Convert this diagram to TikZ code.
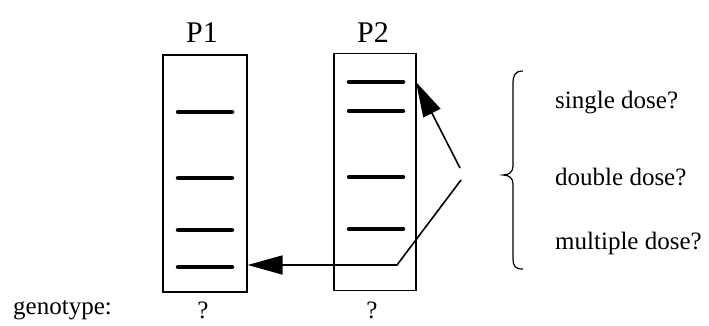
\documentclass[tikz,border=0pt]{standalone}
\usepackage{fontspec}
\setmainfont{Liberation Serif}
\usetikzlibrary{arrows.meta}
\begin{document}
\begin{tikzpicture}[x=1pt,y=-1pt,
  lane/.style={draw=black,line width=1.2pt,minimum width=#1,minimum height=237pt,inner sep=0pt},
  bandline/.style={line width=4.5pt,line cap=round},
  lbl/.style={font=\fontsize{25}{29}\selectfont,inner sep=0pt},
  head/.style={font=\fontsize{30}{34}\selectfont,inner sep=0pt},
  arr/.style={line width=1.6pt,-{Triangle[length=35pt,width=19pt]}}]
\useasboundingbox (0,0) rectangle (709,326);
% gel lanes
\node[lane=84pt] (p1) at (205,173.5) {};
\node[lane=82pt] (p2) at (375,172) {};
\node[head] (h1) at (202,33) {P1};
\node[head] (h2) at (373,33) {P2};
% bands of lane P1
\foreach \y in {112,178,230,267}
  \draw[bandline] (178,\y) -- (232,\y);
% bands of lane P2
\foreach \y in {82,111,177,229}
  \draw[bandline] (349,\y) -- (403,\y);
% connectors
\coordinate (forkA) at (460,168);
\coordinate (forkB) at (461,180);
\coordinate (knee) at (397,265);
\coordinate (tipA) at (416,82);
\draw[arr] (forkA) -- (tipA);
\draw[arr] (forkB) -- (knee) -- (knee -| p1.east);
% brace
\draw[line width=1.2pt] (523,71) .. controls (515,71) and (513,75) .. (513,84)
  -- (513,166) .. controls (513,172) and (509,175) .. (503,175)
  .. controls (509,175) and (513,178) .. (513,184)
  -- (513,259) .. controls (513,266) and (515,269) .. (523,269);
\node[lbl,anchor=west] (s1) at (555,103) {single dose?};
\node[lbl,anchor=west] (s2) at (555,177) {double dose?};
\node[lbl,anchor=west] (s3) at (555,243) {multiple dose?};
% genotype row
\node[lbl,anchor=west] (g) at (13,310) {genotype:};
\node[lbl] (q1) at (203,310) {?};
\node[lbl] (q2) at (372,310) {?};
\end{tikzpicture}
\end{document}
